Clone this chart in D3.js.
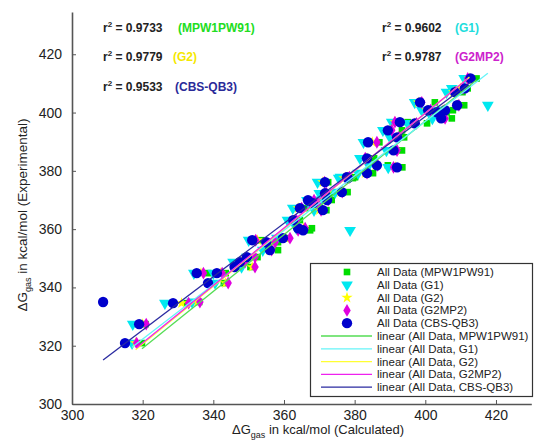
<!DOCTYPE html>
<html>
<head>
<meta charset="utf-8">
<script src="https://cdn.jsdelivr.net/npm/d3@7"></script>
<style>
  body { margin: 0; background: white; }
  svg { display: block; font-family: "Liberation Sans", Arial, sans-serif; }
</style>
</head>
<body>
<svg id="chart" width="534" height="441"></svg>
<script>
// methods, in plot order
var methods = ["MPW1PW91", "G1", "G2", "G2MP2", "CBS-QB3"];

// experimental dG (y) for each compound
var expVals = [320.9, 327.4, 334.6, 335.0, 344.9, 341.5, 344.9, 348.7, 347.0, 350.4,
               356.2, 352.8, 355.5, 356.9, 359.6, 363.1, 360.3, 367.2, 366.5, 368.9,
               369.9, 370.0, 372.3, 372.7, 376.1, 377.8, 377.5, 379.2, 381.2, 381.9,
               384.3, 387.0, 389.8, 391.5, 393.9, 396.3, 396.7, 398.0, 400.8, 400.1,
               400.8, 403.5, 402.5, 407.0, 408.3, 411.7];

// calculated dG (x) per method, same compound order
var calcMPW = [319.8, 320.8, 332.5, 336.0, 338.5, 343.0, 343.5, 349.0, 350.5, 352.5,
               353.5, 358.3, 358.3, 360.5, 367.4, 364.5, 367.9, 366.0, 372.0, 370.0,
               369.5, 373.5, 373.0, 378.0, 372.5, 380.1, 379.5, 385.2, 393.5, 389.4,
               385.5, 393.4, 387.0, 394.0, 393.4, 400.5, 395.0, 407.5, 404.0, 406.0,
               407.8, 402.7, 411.0, 410.5, 412.0, 414.5];
var calcG1 = [317.0, 317.2, 326.3, 334.0, 334.5, 340.5, 340.0, 345.6, 348.0, 349.5,
              350.0, 354.0, 355.0, 358.0, 378.7, 361.0, 363.5, 362.5, 368.5, 367.0,
              366.5, 370.5, 370.0, 374.5, 369.5, 376.0, 375.5, 381.0, 389.5, 384.0,
              381.5, 389.0, 382.5, 390.0, 388.0, 395.0, 390.5, 402.0, 399.0, 401.5,
              403.0, 397.0, 417.7, 406.0, 407.5, 411.0];
var calcG2 = [318.0, 320.0, 331.0, 335.5, 336.5, 343.5, 342.0, 348.0, 351.0, 351.5,
              352.5, 356.0, 357.0, 360.5, 364.5, 363.0, 365.5, 364.0, 370.0, 369.0,
              368.5, 372.0, 372.0, 376.0, 371.0, 378.0, 377.0, 383.0, 391.5, 386.0,
              383.5, 391.5, 385.0, 392.0, 390.0, 397.0, 391.5, 404.5, 400.5, 403.0,
              405.0, 398.0, 409.0, 408.0, 410.0, 412.5];
var calcG2MP2 = [318.3, 321.0, 333.0, 336.2, 337.2, 344.2, 342.5, 349.0, 351.8, 351.8,
                 352.0, 356.5, 357.5, 361.7, 364.0, 363.5, 366.0, 365.0, 370.5, 369.5,
                 368.5, 372.5, 372.0, 376.5, 371.5, 378.5, 377.5, 383.5, 391.0, 386.5,
                 383.0, 392.0, 386.3, 392.5, 390.5, 397.5, 391.4, 405.6, 401.5, 403.5,
                 405.5, 399.0, 409.5, 408.5, 410.7, 412.0];
var calcCBS = [315.0, 319.0, 328.6, 308.8, 335.3, 338.5, 341.0, 347.5, 346.0, 349.5,
               351.0, 356.0, 355.0, 359.7, 365.4, 362.6, 364.0, 364.5, 371.0, 368.2,
               366.8, 372.2, 371.6, 376.4, 371.6, 377.8, 378.1, 383.5, 392.0, 386.3,
               383.5, 391.0, 383.8, 392.0, 389.4, 397.0, 392.8, 404.5, 400.8, 403.3,
               405.6, 398.5, 409.0, 408.4, 411.2, 412.8];

// linear fit coefficients (y = slope*x + intercept)
var fitSlope = [0.973, 0.933, 0.99, 0.985, 0.916];
var fitIntercept = [7.83, 23.74, 3.78, 5.77, 32.24];
var rSquared = ["0.9733", "0.9602", "0.9779", "0.9787", "0.9533"];

var xTicks = [300, 320, 340, 360, 380, 400, 420];
var yTicks = [300, 320, 340, 360, 380, 400, 420];

var calcs = [calcMPW, calcG1, calcG2, calcG2MP2, calcCBS];
var markerColor = ["#00dd00", "#00e8f0", "#ffff00", "#e000e0", "#0000cc"];
var lineColor = ["#55dd55", "#66f4f8", "#ffff33", "#ee22ee", "#2a2aa0"];
var labelColor = ["#22dd22", "#22dddd", "#f5e800", "#cc22cc", "#2a2a99"];
var markerShape = [d3.symbolSquare, d3.symbolTriangle, d3.symbolStar, d3.symbolDiamond, d3.symbolCircle];
var markerSize = [44, 60, 40, 48, 84];

var svg = d3.select("#chart");

var x = d3.scaleLinear().domain([300, 430]).range([72, 531.3]);
var y = d3.scaleLinear().domain([300, 434.5]).range([404, 12]);

function symbolPath(i) {
    var p = d3.symbol().type(markerShape[i]).size(markerSize[i]);
    return p();
}
// triangle points down for G1
function markerTransform(i, px, py) {
    return "translate(" + px + "," + py + ")" + (i == 1 ? " rotate(180)" : "");
}

// markers
methods.forEach(function(m, i) {
    var pts = expVals.map(function(e, k) { return {x: calcs[i][k], y: e}; });
    svg.append("g").selectAll("path").data(pts).enter().append("path")
        .attr("d", symbolPath(i))
        .attr("transform", function(d) { return markerTransform(i, x(d.x), y(d.y)); })
        .attr("fill", markerColor[i]);
});

// fit lines
methods.forEach(function(m, i) {
    var ext = d3.extent(calcs[i]);
    var line = d3.line().x(function(d) { return x(d); })
        .y(function(d) { return y(fitSlope[i] * d + fitIntercept[i]); });
    svg.append("path").attr("d", line(ext))
        .attr("fill", "none").attr("stroke", lineColor[i]).attr("stroke-width", 1.3);
});

// axes (MATLAB style, inward ticks, no box)
var yAxis = d3.axisLeft(y).tickValues(yTicks).tickSizeInner(-4).tickSizeOuter(0).tickPadding(10);
var xAxis = d3.axisBottom(x).tickValues(xTicks).tickSizeInner(-4).tickSizeOuter(0).tickPadding(6);

var gy = svg.append("g").attr("transform", "translate(72,0)").call(yAxis);
var gx = svg.append("g").attr("transform", "translate(0,404)").call(xAxis);
[gx, gy].forEach(function(g) {
    g.select(".domain").attr("stroke", "#555").attr("stroke-width", 1.6);
    g.selectAll(".tick line").attr("stroke", "#555");
    g.selectAll(".tick text").attr("fill", "#222").style("font-size", "14px")
        .style("font-family", "Liberation Sans, Arial, sans-serif");
});

// axis labels
var xl = svg.append("text").attr("x", 318).attr("y", 434).attr("text-anchor", "middle")
    .attr("fill", "#222").style("font-size", "13px");
xl.append("tspan").text("\u0394G");
xl.append("tspan").attr("dy", 4).style("font-size", "9px").text("gas");
xl.append("tspan").attr("dy", -4).text(" in kcal/mol (Calculated)");

var yl = svg.append("text").attr("transform", "translate(27,215) rotate(-90)")
    .attr("text-anchor", "middle").attr("fill", "#222").style("font-size", "13.5px");
yl.append("tspan").text("\u0394G");
yl.append("tspan").attr("dy", 4).style("font-size", "9px").text("gas");
yl.append("tspan").attr("dy", -4).text(" in kcal/mol (Experimental)");

// r^2 annotations
var annoPos = [[103, 178, 32], [382, 455, 32], [103, 173, 61], [382, 455, 61], [103, 175, 91]];
methods.forEach(function(m, i) {
    var t = svg.append("text").attr("x", annoPos[i][0]).attr("y", annoPos[i][2])
        .attr("fill", "#222").style("font-size", "12px").style("font-weight", "bold");
    t.append("tspan").text("r");
    t.append("tspan").attr("dy", -5).style("font-size", "8px").text("2");
    t.append("tspan").attr("dy", 5).text(" = " + rSquared[i]);
    svg.append("text").attr("x", annoPos[i][1]).attr("y", annoPos[i][2])
        .attr("fill", labelColor[i]).style("font-size", "12px").style("font-weight", "bold")
        .text("(" + m + ")");
});

// legend
var lg = svg.append("g");
lg.append("rect").attr("x", 310.5).attr("y", 263.5).attr("width", 222).attr("height", 133)
    .attr("fill", "white").attr("stroke", "#333").attr("stroke-width", 1.2);
var rowY = function(k) { return 272 + k * 12.8; };
methods.forEach(function(m, i) {
    lg.append("path").attr("d", symbolPath(i))
        .attr("transform", markerTransform(i, 347, rowY(i))).attr("fill", markerColor[i]);
    lg.append("text").attr("x", 377).attr("y", rowY(i) + 4).attr("fill", "#222")
        .style("font-size", "11.5px").text("All Data (" + m + ")");
});
methods.forEach(function(m, i) {
    var k = i + 5;
    lg.append("line").attr("x1", 321).attr("x2", 372).attr("y1", rowY(k)).attr("y2", rowY(k))
        .attr("stroke", lineColor[i]).attr("stroke-width", 1.3);
    lg.append("text").attr("x", 377).attr("y", rowY(k) + 4).attr("fill", "#222")
        .style("font-size", "11.5px").text("linear (All Data, " + m + ")");
});
</script>
</body>
</html>
